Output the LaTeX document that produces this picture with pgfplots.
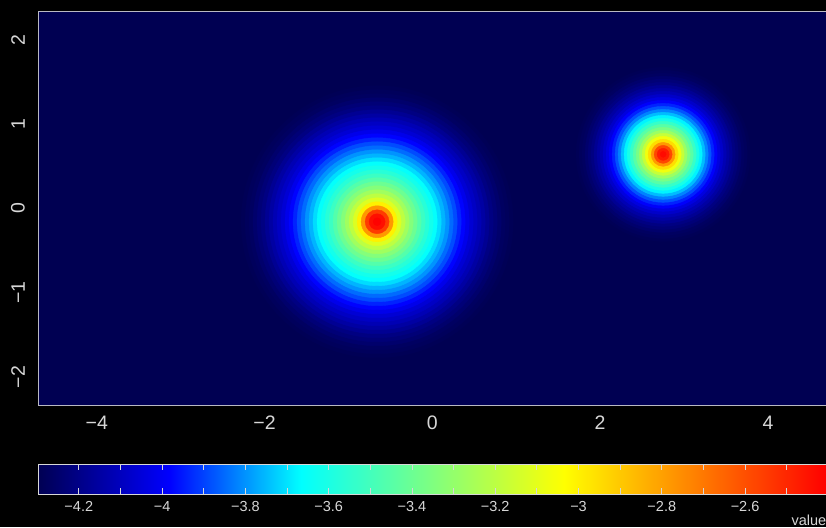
\documentclass[border=0pt]{standalone}
\usepackage{fontspec}
\setmainfont{Liberation Sans}
\usepackage{pgfplots}
\pgfplotsset{compat=1.18}
\usepackage{pgfplotstable}
\usetikzlibrary{calc}
\definecolor{bgnavy}{RGB}{0,0,82}
\definecolor{lbl}{RGB}{215,215,215}
\definecolor{frame}{RGB}{185,185,195}

% radial profile rings: x, y (centre), r (ring radius in pt), v (value)
\pgfplotstableread{
x y r v
-0.658 -0.157 136 -4.29
-0.658 -0.157 132 -4.28
-0.658 -0.157 128 -4.27
-0.658 -0.157 124 -4.25
-0.658 -0.157 120 -4.23
-0.658 -0.157 116 -4.21
-0.658 -0.157 112 -4.18
-0.658 -0.157 108 -4.15
-0.658 -0.157 104 -4.12
-0.658 -0.157 100 -4.09
-0.658 -0.157 96 -4.06
-0.658 -0.157 92 -4.02
-0.658 -0.157 88 -3.98
-0.658 -0.157 84 -3.94
-0.658 -0.157 80 -3.89
-0.658 -0.157 76 -3.85
-0.658 -0.157 72 -3.80
-0.658 -0.157 68 -3.76
-0.658 -0.157 64 -3.71
-0.658 -0.157 60 -3.66
-0.658 -0.157 56 -3.62
-0.658 -0.157 52 -3.57
-0.658 -0.157 48 -3.52
-0.658 -0.157 44 -3.46
-0.658 -0.157 40 -3.40
-0.658 -0.157 36 -3.34
-0.658 -0.157 32 -3.27
-0.658 -0.157 28 -3.20
-0.658 -0.157 24 -3.12
-0.658 -0.157 20 -3.00
-0.658 -0.157 16 -2.78
-0.658 -0.157 12 -2.55
-0.658 -0.157 8 -2.44
-0.658 -0.157 4 -2.41
}\blobA

\pgfplotstableread{
x y r v
2.751 0.643 87 -4.29
2.751 0.643 84 -4.28
2.751 0.643 81 -4.27
2.751 0.643 78 -4.25
2.751 0.643 75 -4.23
2.751 0.643 72 -4.21
2.751 0.643 69 -4.18
2.751 0.643 66 -4.15
2.751 0.643 63 -4.12
2.751 0.643 60 -4.08
2.751 0.643 57 -4.04
2.751 0.643 54 -3.99
2.751 0.643 51 -3.94
2.751 0.643 48 -3.88
2.751 0.643 45 -3.82
2.751 0.643 42 -3.75
2.751 0.643 39 -3.68
2.751 0.643 36 -3.61
2.751 0.643 33 -3.53
2.751 0.643 30 -3.45
2.751 0.643 27 -3.37
2.751 0.643 24 -3.28
2.751 0.643 21 -3.18
2.751 0.643 18 -3.07
2.751 0.643 15 -2.95
2.751 0.643 12 -2.78
2.751 0.643 9 -2.58
2.751 0.643 6 -2.47
2.751 0.643 3 -2.43
}\blobB

\begin{document}
\begin{tikzpicture}
\fill[black] (0,0) rectangle (826pt,527pt);
\begin{axis}[
  at={(38pt,121pt)}, anchor=south west,
  scale only axis,
  x=83.9pt, y=84.25pt,
  xmin=-4.70, xmax=4.70, ymin=-2.344, ymax=2.344,
  axis background/.style={fill=bgnavy},
  axis line style={draw=frame, line width=1pt},
  major tick length=0pt,
  xtick={-4,-2,0,2,4},
  xticklabels={−4,−2,0,2,4},
  ytick={-2,-1,0,1,2},
  yticklabels={−2,−1,0,1,2},
  xticklabel style={text=lbl, font=\fontsize{19.5}{22}\selectfont, anchor=north, inner ysep=10pt},
  yticklabel style={text=lbl, font=\fontsize{19.5}{22}\selectfont, rotate=90, anchor=south, inner ysep=13pt},
  colormap={myjet}{rgb255(0)=(0,0,82) rgb255(1)=(0,0,255) rgb255(2)=(0,255,255) rgb255(4)=(255,255,0) rgb255(6)=(255,0,0)},
  point meta min=-4.298, point meta max=-2.404,
  colorbar horizontal,
  colorbar/width=30pt,
  colorbar style={
    at={($(parent axis.south west)+(0pt,-49.6pt)$)}, anchor=north west,
    scale only axis,
    width=788.7pt,
    axis line style={draw=lbl, line width=1pt},
    xtick={-4.2,-4,-3.8,-3.6,-3.4,-3.2,-3,-2.8,-2.6},
    xticklabels={−4.2,−4,−3.8,−3.6,−3.4,−3.2,−3,−2.8,−2.6},
    minor xtick={-4.1,-3.9,-3.7,-3.5,-3.3,-3.1,-2.9,-2.7,-2.5},
    xtick pos=both,
    tick align=inside,
    major tick length=6pt, minor tick length=6pt,
    every tick/.style={draw=lbl, line width=0.8pt},
    every minor tick/.style={draw=lbl, line width=0.8pt},
    xticklabel style={text=lbl, font=\fontsize{14.5}{17}\selectfont, anchor=north, inner ysep=7.4pt},
    ytick=\empty,
  },
]
\addplot[scatter, only marks, mark=*, point meta=explicit,
  scatter/use mapped color={draw=mapped color, fill=mapped color},
  visualization depends on={\thisrow{r} \as \rad},
  scatter/@pre marker code/.append style={/tikz/mark size=\rad, /tikz/line width=0.3pt}]
  table[x=x, y=y, meta=v] {\blobA};
\addplot[scatter, only marks, mark=*, point meta=explicit,
  scatter/use mapped color={draw=mapped color, fill=mapped color},
  visualization depends on={\thisrow{r} \as \rad},
  scatter/@pre marker code/.append style={/tikz/mark size=\rad, /tikz/line width=0.3pt}]
  table[x=x, y=y, meta=v] {\blobB};
\end{axis}
\node[anchor=base east, inner sep=0pt, text=lbl, font=\fontsize{14.5}{17}\selectfont] at (826.5pt,2pt) {value};
\pgfresetboundingbox
\path (0,0) rectangle (826pt,527pt);
\end{tikzpicture}
\end{document}
